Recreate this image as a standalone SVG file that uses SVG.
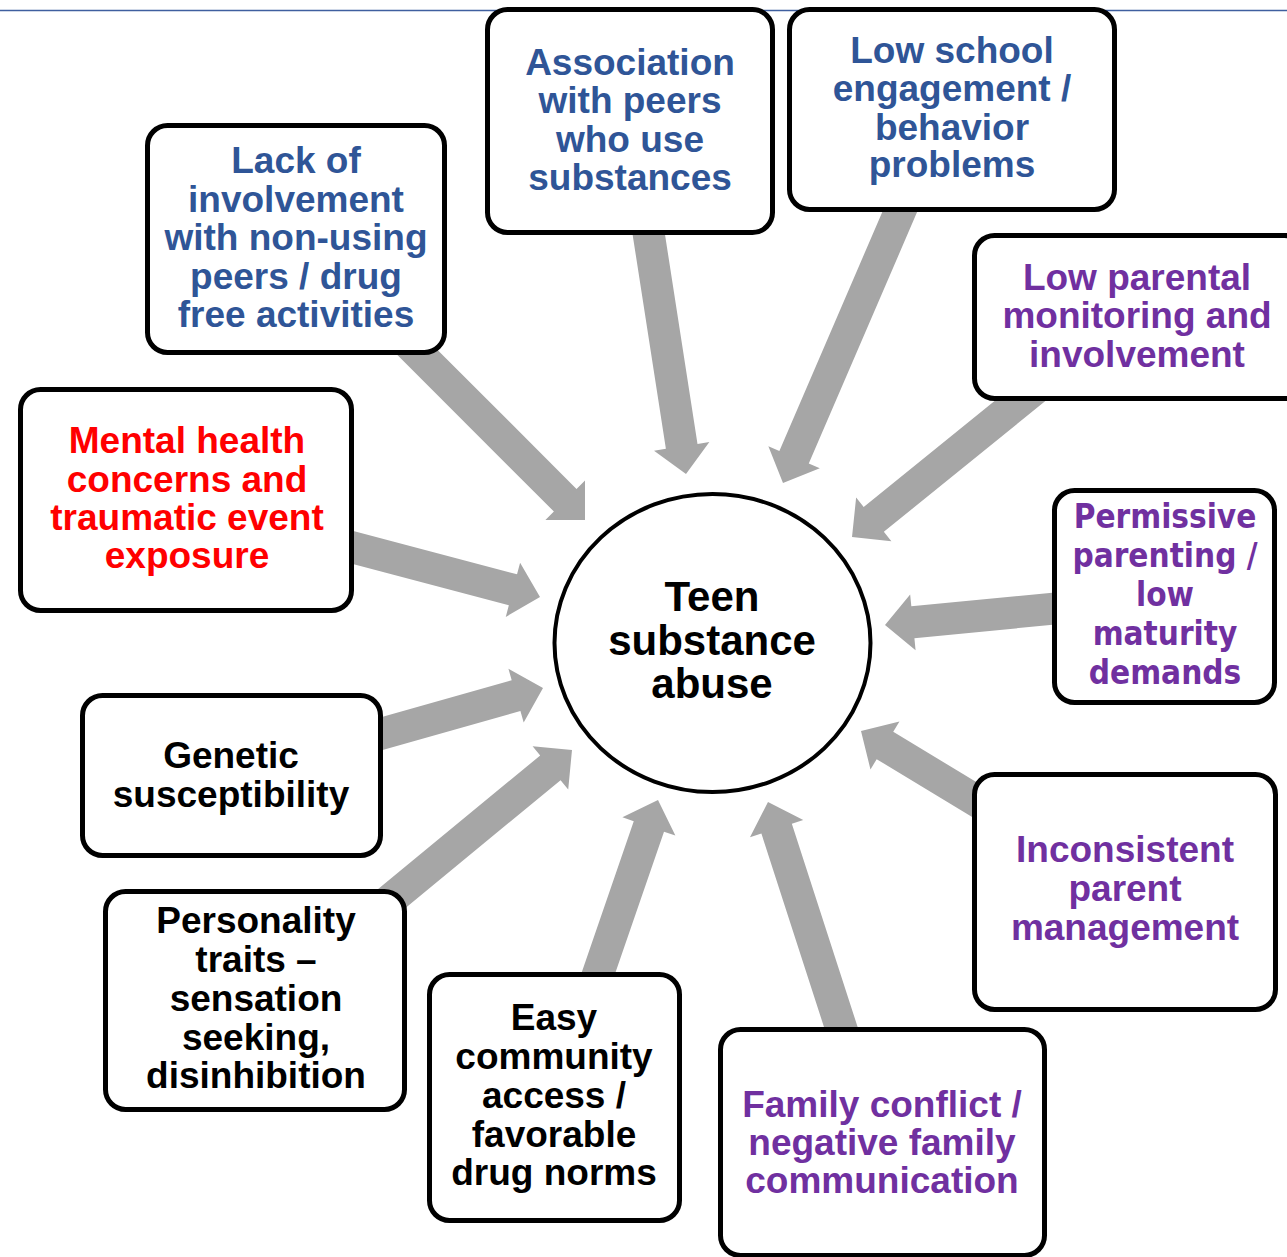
<svg xmlns="http://www.w3.org/2000/svg" width="1287" height="1257" viewBox="0 0 1287 1257">
<style>
.box{fill:#fff;stroke:#000;stroke-width:5}
.arr{fill:#a6a6a6}
text{font-family:"Liberation Sans",Arial,sans-serif;font-weight:bold;font-size:37px;text-anchor:middle}
.blue{fill:#2f5597}
.purple{fill:#7030a0}
.red{fill:#ff0000}
.black{fill:#000}
.tah{font-family:"DejaVu Sans Condensed","DejaVu Sans",sans-serif;font-size:33px}
</style>
<rect width="1287" height="1257" fill="#fff"/>
<line x1="0" y1="10.5" x2="1287" y2="10.5" stroke="#3f5f9f" stroke-width="1.5"/>
<g id="connectors">
<polygon class="arr" transform="translate(585,520) rotate(45)" points="-250,-16 -28,-16 -28,-28 0,0 -28,28 -28,16 -250,16"/>
<polygon class="arr" transform="translate(686,474) rotate(81.17)" points="-270,-16 -28,-16 -28,-28 0,0 -28,28 -28,16 -270,16"/>
<polygon class="arr" transform="translate(783,483) rotate(113.3)" points="-310,-16 -28,-16 -28,-28 0,0 -28,28 -28,16 -310,16"/>
<polygon class="arr" transform="translate(852,537) rotate(141)" points="-245,-16 -28,-16 -28,-28 0,0 -28,28 -28,16 -245,16"/>
<polygon class="arr" transform="translate(885,625) rotate(174.45)" points="-180,-16 -28,-16 -28,-28 0,0 -28,28 -28,16 -180,16"/>
<polygon class="arr" transform="translate(861,731) rotate(-148.84)" points="-155,-16 -28,-16 -28,-28 0,0 -28,28 -28,16 -155,16"/>
<polygon class="arr" transform="translate(768,802) rotate(-107.93)" points="-252,-16 -28,-16 -28,-28 0,0 -28,28 -28,16 -252,16"/>
<polygon class="arr" transform="translate(658,800) rotate(-70.99)" points="-195,-16 -28,-16 -28,-28 0,0 -28,28 -28,16 -195,16"/>
<polygon class="arr" transform="translate(572,750) rotate(-39.5)" points="-240,-16 -28,-16 -28,-28 0,0 -28,28 -28,16 -240,16"/>
<polygon class="arr" transform="translate(543,688) rotate(-15.81)" points="-185,-16 -28,-16 -28,-28 0,0 -28,28 -28,16 -185,16"/>
<polygon class="arr" transform="translate(540,597) rotate(14.84)" points="-210,-16 -28,-16 -28,-28 0,0 -28,28 -28,16 -210,16"/>
</g>
<g id="center">
<ellipse cx="712.5" cy="643" rx="158" ry="149" fill="#fff" stroke="#000" stroke-width="4"/>
<text class="black" style="font-size:42px" x="712" y="611">Teen</text>
<text class="black" style="font-size:42px" x="712" y="655">substance</text>
<text class="black" style="font-size:42px" x="712" y="698">abuse</text>
</g>
<g id="lack">
<rect class="box" x="147.5" y="125.5" width="297" height="227" rx="20"/>
<text class="blue" x="296" y="173">Lack of</text>
<text class="blue" x="296" y="211.5">involvement</text>
<text class="blue" x="296" y="250">with non-using</text>
<text class="blue" x="296" y="288.5">peers / drug</text>
<text class="blue" x="296" y="327">free activities</text>
</g>
<g id="association">
<rect class="box" x="487.5" y="9.5" width="285" height="223" rx="20"/>
<text class="blue" x="630" y="75">Association</text>
<text class="blue" x="630" y="113">with peers</text>
<text class="blue" x="630" y="152">who use</text>
<text class="blue" x="630" y="190">substances</text>
</g>
<g id="school">
<rect class="box" x="789.5" y="9.5" width="325" height="200" rx="20"/>
<text class="blue" x="952" y="63">Low school</text>
<text class="blue" x="952" y="101">engagement /</text>
<text class="blue" x="952" y="140">behavior</text>
<text class="blue" x="952" y="177">problems</text>
</g>
<g id="monitoring">
<rect class="box" x="974.5" y="235.5" width="330" height="163" rx="20"/>
<text class="purple" x="1137" y="290">Low parental</text>
<text class="purple" x="1137" y="328">monitoring and</text>
<text class="purple" x="1137" y="367">involvement</text>
</g>
<g id="permissive">
<rect class="box" x="1054.5" y="490.5" width="220" height="212" rx="20"/>
<text class="purple tah" x="1165" y="528">Permissive</text>
<text class="purple tah" x="1165" y="567">parenting /</text>
<text class="purple tah" x="1165" y="606">low</text>
<text class="purple tah" x="1165" y="645">maturity</text>
<text class="purple tah" x="1165" y="684">demands</text>
</g>
<g id="inconsistent">
<rect class="box" x="974.5" y="774.5" width="301" height="235" rx="20"/>
<text class="purple" x="1125" y="862">Inconsistent</text>
<text class="purple" x="1125" y="901">parent</text>
<text class="purple" x="1125" y="940">management</text>
</g>
<g id="family">
<rect class="box" x="720.5" y="1029.5" width="324" height="226" rx="20"/>
<text class="purple" x="882" y="1117">Family conflict /</text>
<text class="purple" x="882" y="1155">negative family</text>
<text class="purple" x="882" y="1193">communication</text>
</g>
<g id="community">
<rect class="box" x="429.5" y="974.5" width="250" height="246" rx="20"/>
<text class="black" x="554" y="1030">Easy</text>
<text class="black" x="554" y="1069">community</text>
<text class="black" x="554" y="1108">access /</text>
<text class="black" x="554" y="1147">favorable</text>
<text class="black" x="554" y="1185">drug norms</text>
</g>
<g id="personality">
<rect class="box" x="105.5" y="891.5" width="299" height="218" rx="20"/>
<text class="black" x="256" y="933">Personality</text>
<text class="black" x="256" y="972">traits –</text>
<text class="black" x="256" y="1011">sensation</text>
<text class="black" x="256" y="1050">seeking,</text>
<text class="black" x="256" y="1088">disinhibition</text>
</g>
<g id="genetic">
<rect class="box" x="82.5" y="695.5" width="298" height="160" rx="20"/>
<text class="black" x="231" y="768">Genetic</text>
<text class="black" x="231" y="807">susceptibility</text>
</g>
<g id="mental">
<rect class="box" x="20.5" y="389.5" width="331" height="221" rx="20"/>
<text class="red" x="187" y="453">Mental health</text>
<text class="red" x="187" y="492">concerns and</text>
<text class="red" x="187" y="530">traumatic event</text>
<text class="red" x="187" y="568">exposure</text>
</g>
</svg>
